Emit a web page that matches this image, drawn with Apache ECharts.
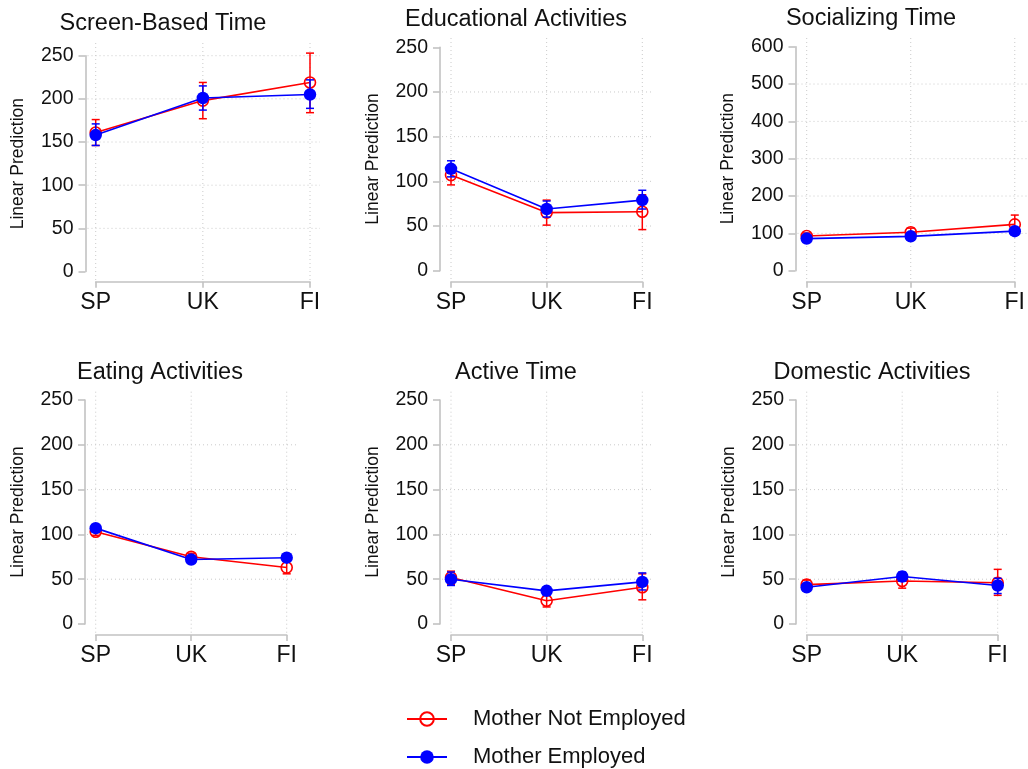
<!DOCTYPE html>
<html>
<head>
<meta charset="utf-8">
<script src="https://cdn.jsdelivr.net/npm/echarts@6/dist/echarts.min.js"></script>
<style>
  html, body { margin: 0; padding: 0; background: #ffffff; }
  #chart { width: 1028px; height: 769px; }
</style>
</head>
<body>
<div id="chart"></div>
<script>
// ---- data: predicted minutes by country, split by mother's employment ----
const countries = ['SP', 'UK', 'FI'];
const panelTitles = ['Screen-Based Time', 'Educational Activities', 'Socializing Time',
                     'Eating Activities', 'Active Time', 'Domestic Activities'];
const yMax = [250, 250, 600, 250, 250, 250];
const yStep = [50, 50, 100, 50, 50, 50];
const seriesNames = ['Mother Not Employed', 'Mother Employed'];

// Mother not employed: estimate, lower and upper 95% bounds (SP, UK, FI)
const notEmployedEst = [[161, 198, 219], [107, 65, 66], [93, 103, 124], [103, 75, 63], [52, 26, 41], [44, 48, 46]];
const notEmployedLow = [[146, 177, 184], [96, 51, 46], [85, 92, 100], [99, 70, 56], [44, 19, 27], [39, 40, 32]];
const notEmployedHigh = [[176, 219, 253], [118, 79, 85], [101, 114, 149], [108, 79, 70], [59, 34, 56], [49, 57, 61]];

// Mother employed: estimate, lower and upper 95% bounds (SP, UK, FI)
const employedEst = [[158, 201, 205], [114, 69, 79], [86, 92, 106], [107, 72, 74], [50, 37, 47], [41, 53, 43]];
const employedLow = [[146, 187, 189], [105, 60, 69], [78, 85, 97], [103, 69, 70], [43, 33, 38], [38, 48, 34]];
const employedHigh = [[171, 215, 222], [123, 78, 90], [94, 99, 115], [110, 75, 77], [58, 41, 57], [45, 58, 51]];

// ---- page layout of the six panels (pixels) ----
const layout = [
  { axisX: 85.5, x0: 95.7, x2: 310,   yTop: 55.7, y0: 271.5, xAxisY: 281.7, gridTop: 43,    gridRight: 320,  titleX: 163, titleY: 23.5, topGrid: true },
  { axisX: 440,  x0: 451,  x2: 642.3, yTop: 47.3, y0: 270.7, xAxisY: 281.7, gridTop: 38,    gridRight: 653,  titleX: 516, titleY: 19.5, topGrid: false },
  { axisX: 795.5,x0: 806.7,x2: 1021,  yTop: 46.7, y0: 270.7, xAxisY: 281.7, gridTop: 38,    gridRight: 1030, titleX: 871, titleY: 18.5, topGrid: false },
  { axisX: 85,   x0: 95.7, x2: 286.7, yTop: 400,  y0: 624,   xAxisY: 635,   gridTop: 391.7, gridRight: 297,  titleX: 160, titleY: 372.8, topGrid: false },
  { axisX: 440,  x0: 451,  x2: 642.3, yTop: 400,  y0: 624,   xAxisY: 635,   gridTop: 391.7, gridRight: 653,  titleX: 516, titleY: 372.8, topGrid: false },
  { axisX: 796,  x0: 806.7,x2: 997.7, yTop: 400,  y0: 624,   xAxisY: 635,   gridTop: 391.7, gridRight: 1008, titleX: 872, titleY: 372.8, topGrid: false }
];

const FONT = '"Liberation Sans", Arial, Helvetica, sans-serif';
const RED = '#ff0000';
const BLUE = '#0000ff';
const AXIS_GRAY = '#c2c2c2';
const GRID_GRAY = '#cacaca';

function errorBarRenderer(color) {
  return function (params, api) {
    const x = api.value(0);
    const pLo = api.coord([x, api.value(1)]);
    const pHi = api.coord([x, api.value(2)]);
    const cap = 4;
    const style = { stroke: color, lineWidth: 1.5, fill: null };
    return {
      type: 'group',
      children: [
        { type: 'line', shape: { x1: pLo[0], y1: pLo[1], x2: pHi[0], y2: pHi[1] }, style },
        { type: 'line', shape: { x1: pLo[0] - cap, y1: pLo[1], x2: pLo[0] + cap, y2: pLo[1] }, style },
        { type: 'line', shape: { x1: pHi[0] - cap, y1: pHi[1], x2: pHi[0] + cap, y2: pHi[1] }, style }
      ]
    };
  };
}

const grids = [], xAxes = [], yAxes = [], series = [], graphics = [];

layout.forEach((L, i) => {
  grids.push({ left: L.x0, top: L.yTop, width: L.x2 - L.x0, height: L.y0 - L.yTop });

  xAxes.push({
    gridIndex: i, type: 'value', min: 0, max: countries.length - 1, interval: 1,
    position: 'bottom',
    offset: L.xAxisY - L.y0,
    axisLine: { show: true, onZero: false, lineStyle: { color: AXIS_GRAY, width: 1.6 } },
    axisTick: { show: true, length: 6, lineStyle: { color: AXIS_GRAY, width: 1.6 } },
    axisLabel: { formatter: v => countries[Math.round(v)], fontSize: 23, color: '#111', fontFamily: FONT, margin: 9 },
    splitLine: { show: false }
  });

  yAxes.push({
    gridIndex: i, type: 'value', min: 0, max: yMax[i], interval: yStep[i],
    position: 'left',
    offset: L.x0 - L.axisX,
    name: 'Linear Prediction', nameLocation: 'middle', nameGap: 58,
    nameTextStyle: { fontSize: 17.5, color: '#111', fontFamily: FONT },
    axisLine: { show: true, onZero: false, lineStyle: { color: AXIS_GRAY, width: 1.6 } },
    axisTick: { show: true, length: 7, lineStyle: { color: AXIS_GRAY, width: 1.6 } },
    axisLabel: { fontSize: 19.5, color: '#111', fontFamily: FONT, margin: 12 },
    splitLine: { show: false }
  });

  // dotted reference lines at the interior y ticks
  const hValues = [];
  for (let v = yStep[i]; v < yMax[i]; v += yStep[i]) hValues.push([0, v]);
  if (L.topGrid) hValues.push([0, yMax[i]]);
  series.push({
    type: 'custom', xAxisIndex: i, yAxisIndex: i, silent: true, z: 1,
    data: hValues,
    renderItem: (params, api) => {
      const p = api.coord([0, api.value(1)]);
      return {
        type: 'line',
        shape: { x1: L.axisX + 2, y1: p[1], x2: L.gridRight, y2: p[1] },
        style: { stroke: GRID_GRAY, lineWidth: 1, lineDash: [1, 3] }
      };
    }
  });
  // dotted reference lines at each country
  series.push({
    type: 'custom', xAxisIndex: i, yAxisIndex: i, silent: true, z: 1,
    data: countries.map((c, k) => [k, 0]),
    renderItem: (params, api) => {
      const p = api.coord([api.value(0), 0]);
      return {
        type: 'line',
        shape: { x1: p[0], y1: L.gridTop, x2: p[0], y2: L.xAxisY - 1 },
        style: { stroke: GRID_GRAY, lineWidth: 1, lineDash: [1, 3] }
      };
    }
  });

  // Mother not employed
  series.push({
    type: 'custom', xAxisIndex: i, yAxisIndex: i, z: 2, silent: true,
    name: seriesNames[0] + ' CI',
    data: countries.map((c, k) => [k, notEmployedLow[i][k], notEmployedHigh[i][k]]),
    encode: { x: 0, y: [1, 2] },
    renderItem: errorBarRenderer(RED)
  });
  series.push({
    type: 'line', name: seriesNames[0], xAxisIndex: i, yAxisIndex: i, z: 3,
    data: countries.map((c, k) => [k, notEmployedEst[i][k]]),
    symbol: 'circle', symbolSize: 11, showAllSymbol: true, clip: false,
    itemStyle: { color: 'rgba(255,255,255,0)', borderColor: RED, borderWidth: 1.6 },
    lineStyle: { color: RED, width: 1.6 },
    animation: false
  });

  // Mother employed
  series.push({
    type: 'custom', xAxisIndex: i, yAxisIndex: i, z: 4, silent: true,
    name: seriesNames[1] + ' CI',
    data: countries.map((c, k) => [k, employedLow[i][k], employedHigh[i][k]]),
    encode: { x: 0, y: [1, 2] },
    renderItem: errorBarRenderer(BLUE)
  });
  series.push({
    type: 'line', name: seriesNames[1], xAxisIndex: i, yAxisIndex: i, z: 5,
    data: countries.map((c, k) => [k, employedEst[i][k]]),
    symbol: 'circle', symbolSize: 12.5, showAllSymbol: true, clip: false,
    itemStyle: { color: BLUE },
    lineStyle: { color: BLUE, width: 1.6 },
    animation: false
  });

  graphics.push({
    type: 'text', x: L.titleX, y: L.titleY,
    style: { text: panelTitles[i], font: '23.5px ' + FONT, fill: '#111', textAlign: 'center', textVerticalAlign: 'middle' }
  });
});

// one legend block per key row, stacked under the panels
const legendTops = [708, 746];
const legends = seriesNames.map((name, k) => ({
  data: [name],
  left: 406, top: legendTops[k],
  padding: 0,
  itemWidth: 40, itemHeight: 17,
  selectedMode: false,
  textStyle: { fontSize: 22, color: '#111', fontFamily: FONT, padding: [0, 0, 0, 21] }
}));

const chart = echarts.init(document.getElementById('chart'), null, { renderer: 'canvas' });
chart.setOption({
  backgroundColor: '#ffffff',
  animation: false,
  grid: grids,
  xAxis: xAxes,
  yAxis: yAxes,
  series: series,
  graphic: graphics,
  legend: legends
});
</script>
</body>
</html>
